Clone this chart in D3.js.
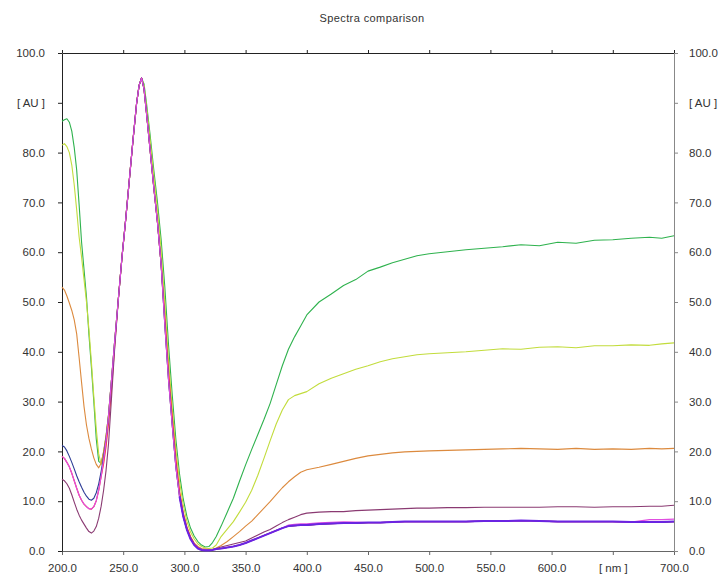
<!DOCTYPE html>
<html>
<head>
<meta charset="utf-8">
<script src="https://cdn.jsdelivr.net/npm/d3@7/dist/d3.min.js"></script>
<style>
  html, body { margin: 0; padding: 0; background: #fff; }
  svg { display: block; }
  text { font-family: "Liberation Sans", Arial, sans-serif; fill: #333; }
</style>
</head>
<body>
<svg id="chart" width="724" height="575"></svg>
<script>
// Wavelength grid (nm) shared by all spectra
const wavelengths = [
  200, 202, 204, 206, 208, 210, 212, 214, 216, 218, 220, 222, 224, 226, 228, 230, 232, 234, 236, 238, 240,
  243, 246, 249, 252, 255, 258, 261,
  263, 265, 267, 269,
  272, 275, 278, 281, 284, 287, 290, 293, 296, 299, 302, 305, 308, 311, 314, 317, 320, 323, 326,
  330, 335, 340, 345, 350, 355, 360, 365, 370, 375, 380, 385, 390, 395, 400,
  410, 420, 430, 440, 450, 460, 470, 480, 490, 500,
  515, 530, 545, 560, 575, 590, 605, 620, 635, 650, 665, 680,
  690, 700
];

// Absorbance [AU] per spectrum, one value per wavelength
const greenValues = [
  86.3, 86.6, 86.8, 86.1, 84.3, 81, 76.5, 69.5, 62, 56.5, 51, 43.5, 37, 30, 22.5, 18, 17.6, 19.8, 23, 27.3, 33,
  42, 50.5, 59, 66.5, 74.5, 82.5, 90,
  93.5, 95, 93.8, 90,
  83.5, 76.5, 70, 62.5, 53, 41.5, 31.5, 22.5, 15.5, 10.5, 7, 4.6, 3, 1.9, 1.2, 0.8, 0.9, 1.7, 2.9,
  5, 7.8, 10.6, 14, 17.3, 20.4, 23.4, 26.4, 29.6, 33.4, 37.2, 40.5, 43, 45.2, 47.4,
  50, 51.6, 53.3, 54.5, 56.2, 57, 57.9, 58.6, 59.3, 59.7,
  60.1, 60.5, 60.8, 61.1, 61.5, 61.3, 62, 61.8, 62.4, 62.5, 62.8, 63,
  62.8, 63.3
];
const yellowValues = [
  81.5, 81.8, 81.2, 80, 77.5, 73.5, 68.5, 63, 59, 54.5, 50, 44.5, 38, 31, 24.5, 19.5, 17.4, 19.6, 23, 27.3, 33,
  42, 50.5, 59, 66.5, 74.5, 82.5, 90,
  93.5, 95, 93.5, 89.3,
  82.5, 75.3, 68.5, 60.5, 50, 38.5, 29, 20.5, 14, 9.3, 6, 3.8, 2.4, 1.4, 0.9, 0.6, 0.5, 0.6, 1.2,
  2.9, 4.4, 5.9, 7.8, 9.8, 12.2, 15.2, 18.6, 22.1, 25.5, 28.3, 30.4, 31.2, 31.6, 32,
  33.6, 34.7, 35.6, 36.5, 37.2, 38, 38.6, 39, 39.4, 39.6,
  39.8, 40, 40.3, 40.6, 40.5, 40.9, 41, 40.8, 41.2, 41.2, 41.4, 41.3,
  41.6, 41.8
];
const orangeValues = [
  53, 52.4, 51.2, 49.8, 48.3, 46.4, 43.6, 38.8, 33.8, 29, 25.3, 22.6, 20.5, 18.7, 17.4, 16.7, 17.6, 20, 23.2, 27.3, 33,
  42, 50.5, 59, 66.5, 74.5, 82.5, 90,
  93.5, 95, 92.8, 88,
  80.5, 73, 66, 57.5, 46.5, 35.5, 26.5, 18, 11.8, 7.6, 4.8, 2.9, 1.6, 0.9, 0.5, 0.4, 0.3, 0.3, 0.6,
  1.1, 1.9, 2.9, 3.9, 5, 6, 7.3, 8.6, 9.9, 11.3, 12.7, 13.9, 14.9, 15.8, 16.3,
  16.8, 17.4, 18, 18.6, 19.1, 19.4, 19.7, 19.9, 20, 20.1,
  20.2, 20.3, 20.4, 20.5, 20.6, 20.5, 20.4, 20.6, 20.4, 20.5, 20.4, 20.6,
  20.5, 20.6
];
const redValues = [
  19, 18.6, 17.8, 16.9, 15.6, 14.1, 12.6, 11.2, 10.2, 9.4, 8.9, 8.5, 8.4, 8.9, 10.1, 12.2, 15, 17.5, 21, 25.5, 31,
  41, 50.5, 59, 66.5, 74.5, 82.5, 90,
  93.5, 95, 92.8, 88,
  80.5, 73, 66, 57.5, 47, 36, 27, 18.5, 12, 7.7, 4.8, 2.8, 1.5, 0.7, 0.3, 0.2, 0.2, 0.3, 0.4,
  0.5, 0.7, 0.9, 1.2, 1.6, 2.1, 2.6, 3.1, 3.6, 4.1, 4.6, 5, 5.1, 5.2, 5.2,
  5.4, 5.5, 5.6, 5.6, 5.7, 5.7, 5.8, 5.9, 5.9, 5.9,
  5.9, 5.9, 6, 6, 6.1, 6, 5.9, 5.9, 5.9, 5.9, 5.8, 5.8,
  5.8, 5.9
];
const maroonValues = [
  14.4, 14.1, 13.5, 12.6, 11.3, 9.8, 8.4, 7.2, 6.2, 5.4, 4.6, 3.9, 3.6, 4, 4.9, 6.6, 9, 12.2, 16.2, 21.5, 29,
  40.5, 50.5, 59, 66.5, 74.5, 82.5, 90,
  93.5, 95, 92.8, 88,
  80.5, 73, 66, 57.5, 45.5, 34.5, 25.5, 17, 11, 7, 4.3, 2.5, 1.3, 0.6, 0.3, 0.2, 0.2, 0.3, 0.5,
  0.8, 1.1, 1.4, 1.7, 2, 2.6, 3.2, 3.8, 4.3, 5, 5.7, 6.3, 6.8, 7.3, 7.6,
  7.8, 7.9, 7.9, 8.1, 8.2, 8.3, 8.4, 8.5, 8.6, 8.6,
  8.7, 8.7, 8.8, 8.8, 8.8, 8.8, 8.9, 8.9, 8.8, 8.9, 8.9, 9,
  9, 9.2
];
const navyValues = [
  21.2, 20.9, 20.1, 19, 17.8, 16.5, 15.1, 13.9, 12.8, 11.8, 11, 10.4, 10.2, 10.6, 11.7, 13.5, 16, 19, 22.5, 27, 33,
  42, 50.5, 59, 66.5, 74.5, 82.5, 90,
  93.5, 95, 92.8, 88,
  80.5, 73, 66, 57.5, 45.5, 34.5, 25.5, 17, 11, 7, 4.3, 2.5, 1.3, 0.6, 0.3, 0.2, 0.2, 0.3, 0.4,
  0.5, 0.7, 0.9, 1.2, 1.6, 2.1, 2.6, 3.1, 3.6, 4.1, 4.6, 5, 5.1, 5.2, 5.2,
  5.4, 5.5, 5.6, 5.6, 5.7, 5.7, 5.8, 5.9, 5.9, 5.9,
  5.9, 5.9, 6, 6, 6.1, 6, 5.9, 5.9, 5.9, 5.9, 5.8, 5.8,
  5.8, 5.9
];
const pinkValues = [
  19, 18.6, 17.8, 16.9, 15.6, 14.1, 12.6, 11.2, 10.2, 9.4, 8.9, 8.5, 8.4, 8.9, 10.1, 12.2, 15, 18.3, 22.2, 27, 33,
  42, 50.5, 59, 66.5, 74.5, 82.5, 90,
  93.5, 95, 92.8, 88,
  80.5, 73, 66, 57.5, 45.5, 34.5, 25.5, 17, 11, 7, 4.3, 2.5, 1.3, 0.6, 0.3, 0.2, 0.2, 0.3, 0.4,
  0.5, 0.7, 0.9, 1.2, 1.6, 2.1, 2.6, 3.1, 3.6, 4.1, 4.6, 5.2, 5.35, 5.45, 5.45,
  5.65, 5.75, 5.85, 5.8, 5.7, 5.7, 5.8, 5.9, 5.9, 5.9,
  5.9, 5.9, 6, 6, 6.1, 6, 5.9, 5.9, 5.9, 5.9, 5.8, 6.3,
  6.3, 6.4
];
const violetValues = [
  null, null, null, null, null, null, null, null, null, null, null, null, null, null, null, null, null, null, null, null, null,
  null, null, null, null, null, null, null,
  null, null, null, null,
  null, null, null, null, null, null, null, null, 11, 7, 4.3, 2.4, 1.2, 0.5, 0.2, 0.1, 0.1, 0.2, 0.4,
  0.5, 0.7, 0.9, 1.2, 1.6, 2.1, 2.6, 3.1, 3.6, 4.1, 4.6, 5, 5.1, 5.2, 5.2,
  5.4, 5.5, 5.6, 5.6, 5.7, 5.7, 5.8, 5.9, 5.9, 5.9,
  5.9, 5.9, 6, 6, 6.1, 6, 5.9, 5.9, 5.9, 5.9, 5.8, 5.8,
  5.8, 5.9
];

// Axis ticks and their labels
const yTickValues = [0, 10, 20, 30, 40, 50, 60, 70, 80, 90, 100];
const yTickLabels = ["0.0", "10.0", "20.0", "30.0", "40.0", "50.0", "60.0", "70.0", "80.0", "[ AU ]", "100.0"];
const xTickValues = [200, 250, 300, 350, 400, 450, 500, 550, 600, 650, 700];
const xTickLabels = ["200.0", "250.0", "300.0", "350.0", "400.0", "450.0", "500.0", "550.0", "600.0", "[ nm ]", "700.0"];

const chartTitle = "Spectra comparison";

// Drawing order: later entries are painted on top
const spectra = [
  { values: greenValues,  color: "#2fb24e", width: 1.1 },
  { values: yellowValues, color: "#c2dc3c", width: 1.1 },
  { values: orangeValues, color: "#dc8a3e", width: 1.1 },
  { values: redValues,    color: "#ff2a2a", width: 1.1 },
  { values: maroonValues, color: "#8a3a72", width: 1.1 },
  { values: navyValues,   color: "#2c3c96", width: 1.1 },
  { values: pinkValues,   color: "#e04ee0", width: 1.2 },
  { values: violetValues, color: "#6a24e2", width: 2 }
];

const W = 724, H = 575;
const margin = { top: 53, right: 50, bottom: 24, left: 62 };
const innerW = W - margin.left - margin.right;
const innerH = H - margin.top - margin.bottom;

const svg = d3.select("#chart");

const x = d3.scaleLinear().domain([200, 700]).range([margin.left, margin.left + innerW]);
const y = d3.scaleLinear().domain([0, 100]).range([margin.top + innerH, margin.top]);

// Title
svg.append("text")
  .attr("x", 372)
  .attr("y", 22)
  .attr("text-anchor", "middle")
  .style("font-size", "11px")
  .style("letter-spacing", "0.4px")
  .text(chartTitle);

const fmtY = (d) => yTickLabels[yTickValues.indexOf(d)];
const fmtX = (d) => xTickLabels[xTickValues.indexOf(d)];

function styleAxis(g, color) {
  g.selectAll("path.domain").attr("stroke", color).attr("stroke-width", 1);
  g.selectAll(".tick line").attr("stroke", color);
  g.selectAll(".tick text")
    .style("font-size", "11.5px")
    .style("font-family", "'Liberation Sans', Arial, sans-serif")
    .attr("fill", "#333");
}

// Top frame line with upward ticks
const gTop = svg.append("g")
  .attr("transform", `translate(0,${margin.top})`)
  .call(d3.axisTop(x).tickValues(xTickValues).tickSize(3).tickSizeOuter(0).tickFormat(""));
styleAxis(gTop, "#222");

// Bottom axis
const gBottom = svg.append("g")
  .attr("transform", `translate(0,${margin.top + innerH})`)
  .call(d3.axisBottom(x).tickValues(xTickValues).tickSize(4).tickSizeOuter(0).tickPadding(9).tickFormat(fmtX));
styleAxis(gBottom, "#666");

// Left axis
const gLeft = svg.append("g")
  .attr("transform", `translate(${margin.left},0)`)
  .call(d3.axisLeft(y).tickValues(yTickValues).tickSize(4).tickSizeOuter(0).tickPadding(13).tickFormat(fmtY));
styleAxis(gLeft, "#222");

// Right axis
const gRight = svg.append("g")
  .attr("transform", `translate(${margin.left + innerW},0)`)
  .call(d3.axisRight(y).tickValues(yTickValues).tickSize(4).tickSizeOuter(0).tickPadding(11).tickFormat(fmtY));
styleAxis(gRight, "#888");

// Spectra
const line = d3.line()
  .defined((d) => d[1] !== null)
  .x((d) => x(d[0]))
  .y((d) => y(d[1]));

const gLines = svg.append("g").attr("fill", "none");
spectra.forEach((s) => {
  const pts = wavelengths.map((w, i) => [w, s.values[i]]);
  gLines.append("path")
    .datum(pts)
    .attr("d", line)
    .attr("stroke", s.color)
    .attr("stroke-width", s.width)
    .attr("stroke-linejoin", "round");
});
</script>
</body>
</html>
